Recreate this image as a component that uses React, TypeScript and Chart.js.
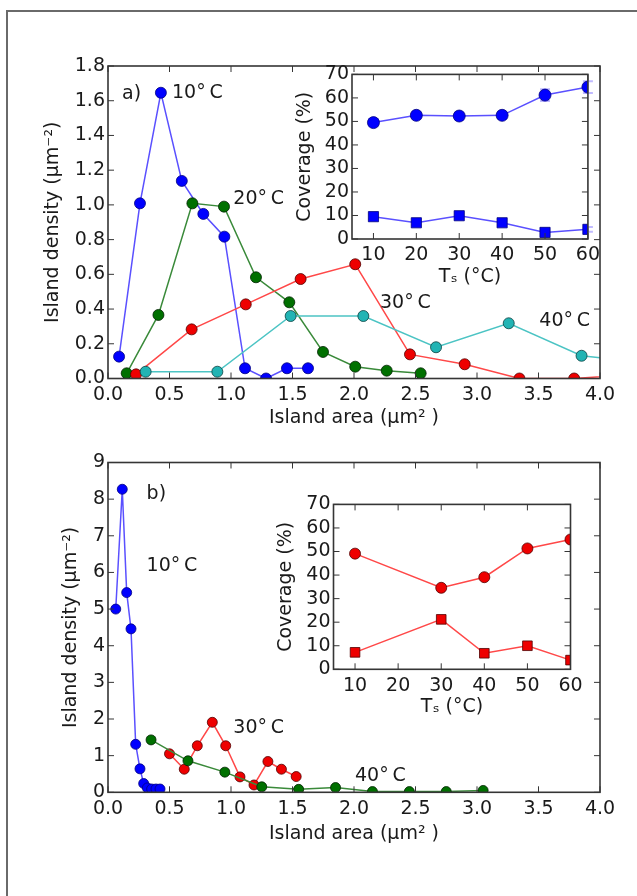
import React, { useEffect, useRef } from 'react';
import { Chart, registerables } from 'chart.js';
Chart.register(...registerables);

// ---------- data: panel a ----------
const areaTicks = [0, 0.5, 1, 1.5, 2, 2.5, 3, 3.5, 4];
const densityTicksA = [0, 0.2, 0.4, 0.6, 0.8, 1.0, 1.2, 1.4, 1.6, 1.8];
const a10X = [0.09, 0.26, 0.43, 0.6, 0.775, 0.946, 1.114, 1.285, 1.455, 1.626];
const a10Y = [0.126, 1.009, 1.646, 1.138, 0.948, 0.817, 0.059, 0.0, 0.059, 0.059];
const a20X = [0.152, 0.41, 0.686, 0.943, 1.203, 1.474, 1.748, 2.01, 2.266, 2.542];
const a20Y = [0.03, 0.366, 1.009, 0.99, 0.583, 0.439, 0.153, 0.068, 0.045, 0.03];
const a30X = [0.228, 0.68, 1.12, 1.566, 2.01, 2.455, 2.9, 3.345, 3.79, 4.235];
const a30Y = [0.024, 0.283, 0.427, 0.573, 0.658, 0.139, 0.082, 0.0, 0.0, 0.02];
const a40X = [0.306, 0.889, 1.485, 2.076, 2.667, 3.258, 3.85, 4.44];
const a40Y = [0.039, 0.039, 0.36, 0.36, 0.18, 0.318, 0.131, 0.086];

// ---------- data: panel b ----------
const densityTicksB = [0, 1, 2, 3, 4, 5, 6, 7, 8, 9];
const b10X = [0.063, 0.116, 0.152, 0.187, 0.225, 0.26, 0.29, 0.32, 0.355, 0.39, 0.423];
const b10Y = [5.0, 8.27, 5.45, 4.46, 1.31, 0.64, 0.24, 0.12, 0.09, 0.09, 0.09];
const b30X = [0.5, 0.62, 0.726, 0.848, 0.957, 1.073, 1.187, 1.3, 1.41, 1.53];
const b30Y = [1.05, 0.63, 1.27, 1.91, 1.27, 0.42, 0.2, 0.84, 0.63, 0.43];
const b40X = [0.35, 0.65, 0.95, 1.25, 1.55, 1.85, 2.15, 2.45, 2.75, 3.05];
const b40Y = [1.43, 0.86, 0.55, 0.15, 0.08, 0.13, 0.02, 0.02, 0.02, 0.05];

// ---------- data: insets ----------
const tempTicks = [10, 20, 30, 40, 50, 60];
const coverageTicks = [0, 10, 20, 30, 40, 50, 60, 70];
const insetATemps = [10, 20, 30, 40, 50, 60];
const insetACircle = [49.5, 52.6, 52.3, 52.6, 61.2, 64.6];
const insetACircleErr = [1.5, 1.5, 1.5, 1.5, 2.5, 2.5];
const insetASquare = [9.5, 6.9, 9.9, 6.9, 2.8, 4.1];
const insetASquareErr = [1, 1, 1, 1, 1, 1];
const insetBTemps = [10, 30, 40, 50, 60];
const insetBCircle = [49.1, 34.6, 39.1, 51.3, 55.1];
const insetBSquare = [7.2, 21.2, 6.8, 10.0, 3.9];

// ---------- styling ----------
const FONT = 'DejaVu Sans';
const FS = 19;
const LH = FS * 1.2;
const TEXT = '#1a1a1a';
const AXIS = '#353535';
const font = { family: FONT, size: FS };

const pts = (xs: number[], ys: number[]) => xs.map((x, i) => ({ x, y: ys[i] }));

function series(xs: number[], ys: number[], line: string, fill: string, edge: string, r: number, style = 'circle') {
  return {
    data: pts(xs, ys),
    borderColor: line,
    borderWidth: 1.5,
    backgroundColor: fill,
    pointBackgroundColor: fill,
    pointBorderColor: edge,
    pointBorderWidth: 0.8,
    pointRadius: r,
    pointStyle: style,
    tension: 0,
    fill: false,
    clip: 0,
  };
}

const framePlugin = {
  id: 'frame',
  beforeDraw(chart: any, _a: any, opts: any) {
    if (!opts || !opts.bg) return;
    const { ctx, chartArea: c } = chart;
    ctx.save();
    ctx.fillStyle = '#ffffff';
    ctx.fillRect(c.left, c.top, c.right - c.left, c.bottom - c.top);
    ctx.restore();
  },
  afterDraw(chart: any) {
    const { ctx, chartArea: c, scales } = chart;
    ctx.save();
    ctx.strokeStyle = AXIS;
    ctx.lineWidth = 1;
    const L = 6;
    const seg = (x1: number, y1: number, x2: number, y2: number) => {
      ctx.beginPath();
      ctx.moveTo(x1, y1);
      ctx.lineTo(x2, y2);
      ctx.stroke();
    };
    for (const t of scales.x.ticks) {
      const px = scales.x.getPixelForValue(t.value);
      seg(px, c.bottom, px, c.bottom - L);
      seg(px, c.top, px, c.top + L);
    }
    for (const t of scales.y.ticks) {
      const py = scales.y.getPixelForValue(t.value);
      seg(c.left, py, c.left + L, py);
      seg(c.right, py, c.right - L, py);
    }
    ctx.lineWidth = 1.6;
    ctx.strokeRect(c.left, c.top, c.right - c.left, c.bottom - c.top);
    ctx.restore();
  },
};

const notesPlugin = {
  id: 'notes',
  afterDatasetsDraw(chart: any, _a: any, opts: any) {
    const items = (opts && opts.items) || [];
    const { ctx, scales } = chart;
    ctx.save();
    ctx.font = `${FS}px "${FONT}"`;
    ctx.fillStyle = TEXT;
    ctx.textAlign = 'left';
    ctx.textBaseline = 'middle';
    for (const it of items) {
      ctx.fillText(it.text, scales.x.getPixelForValue(it.x), scales.y.getPixelForValue(it.y));
    }
    ctx.restore();
  },
};

const errPlugin = {
  id: 'errbars',
  beforeDatasetsDraw(chart: any, _a: any, opts: any) {
    const sets = (opts && opts.sets) || [];
    const { ctx, scales } = chart;
    ctx.save();
    ctx.strokeStyle = 'rgba(140,130,255,0.55)';
    ctx.lineWidth = 2;
    for (const s of sets) {
      s.xs.forEach((x: number, i: number) => {
        const px = scales.x.getPixelForValue(x);
        const y1 = scales.y.getPixelForValue(s.ys[i] - s.errs[i]);
        const y2 = scales.y.getPixelForValue(s.ys[i] + s.errs[i]);
        ctx.beginPath();
        ctx.moveTo(px, y1); ctx.lineTo(px, y2);
        ctx.moveTo(px - 5, y1); ctx.lineTo(px + 5, y1);
        ctx.moveTo(px - 5, y2); ctx.lineTo(px + 5, y2);
        ctx.stroke();
      });
    }
    ctx.restore();
  },
};

type Box = { left: number; top: number; width: number; height: number };
type Area = { left: number; top: number; right: number; bottom: number };

function makeConfig(p: {
  canvas: Box; area: Area; yTitleX: number; xTitleY: number;
  xMin: number; xMax: number; xTicks: number[]; xFmt: (v: number) => string; xTitle: string;
  yMin: number; yMax: number; yTicks: number[]; yFmt: (v: number) => string; yTitle: string;
  datasets: any[]; notes?: any[]; errs?: any[]; bg?: boolean;
}) {
  const padLeft = p.yTitleX - p.canvas.left - LH / 2;
  const yW = p.area.left - p.canvas.left - padLeft;
  const padTop = p.area.top - p.canvas.top;
  const padRight = p.canvas.left + p.canvas.width - p.area.right;
  const scaleBottom = p.xTitleY + LH / 2;
  const padBottom = p.canvas.top + p.canvas.height - scaleBottom;
  const xH = scaleBottom - p.area.bottom;
  return {
    type: 'line',
    data: { datasets: p.datasets },
    plugins: [framePlugin, notesPlugin, errPlugin],
    options: {
      animation: false,
      responsive: false,
      devicePixelRatio: 1,
      layout: { padding: { left: padLeft, top: padTop, right: padRight, bottom: padBottom } },
      plugins: {
        legend: { display: false },
        tooltip: { enabled: false },
        frame: { bg: !!p.bg },
        notes: { items: p.notes || [] },
        errbars: { sets: p.errs || [] },
      },
      scales: {
        x: {
          type: 'linear', position: 'bottom', min: p.xMin, max: p.xMax,
          grid: { display: false, drawTicks: false }, border: { display: false },
          ticks: { font, color: TEXT, padding: 5, autoSkip: false, maxRotation: 0, minRotation: 0, callback: (v: any) => p.xFmt(Number(v)) },
          afterBuildTicks: (s: any) => { s.ticks = p.xTicks.map((v) => ({ value: v })); },
          afterFit: (s: any) => { s.height = xH; },
          title: { display: true, text: p.xTitle, font, color: TEXT, padding: 0 },
        },
        y: {
          type: 'linear', position: 'left', min: p.yMin, max: p.yMax,
          grid: { display: false, drawTicks: false }, border: { display: false },
          ticks: { font, color: TEXT, padding: 3, autoSkip: false, callback: (v: any) => p.yFmt(Number(v)) },
          afterBuildTicks: (s: any) => { s.ticks = p.yTicks.map((v) => ({ value: v })); },
          afterFit: (s: any) => { s.width = yW; },
          title: { display: true, text: p.yTitle, font, color: TEXT, padding: 0 },
        },
      },
    },
  };
}

const BLUE_L = '#5a50ff', BLUE_F = '#0000ff', BLUE_E = '#000080';
const GREEN_L = '#3a8a3a', GREEN_F = '#007000', GREEN_E = '#002200';
const RED_L = '#ff4848', RED_F = '#ee0000', RED_E = '#500000';
const CYAN_L = '#4cc4c4', CYAN_F = '#22b4b4', CYAN_E = '#0d4040';

const f1 = (v: number) => v.toFixed(1);
const f0 = (v: number) => String(Math.round(v));
const deg = (t: string) => `${t}\u00B0\u2009C`;
const densityTitle = 'Island density (\u03BCm\u207B\u00B2)';
const areaTitle = 'Island area (\u03BCm\u00B2 )';
const tempTitle = 'T\u209B (\u00B0C)';

const boxMainA: Box = { left: 0, top: 0, width: 637, height: 448 };
const boxMainB: Box = { left: 0, top: 440, width: 637, height: 456 };
const boxInsetA: Box = { left: 260, top: 60, width: 345, height: 240 };
const boxInsetB: Box = { left: 240, top: 490, width: 350, height: 240 };

const cfgMainA = makeConfig({
  canvas: boxMainA, area: { left: 108, top: 66, right: 600, bottom: 378.5 }, yTitleX: 53, xTitleY: 418,
  xMin: 0, xMax: 4, xTicks: areaTicks, xFmt: f1, xTitle: areaTitle,
  yMin: 0, yMax: 1.8, yTicks: densityTicksA, yFmt: f1, yTitle: densityTitle,
  datasets: [
    series(a40X, a40Y, CYAN_L, CYAN_F, CYAN_E, 5.5),
    series(a30X, a30Y, RED_L, RED_F, RED_E, 5.5),
    series(a20X, a20Y, GREEN_L, GREEN_F, GREEN_E, 5.5),
    series(a10X, a10Y, BLUE_L, BLUE_F, BLUE_E, 5.5),
  ],
  notes: [
    { text: 'a)', x: 0.114, y: 1.64 },
    { text: deg('10'), x: 0.52, y: 1.645 },
    { text: deg('20'), x: 1.019, y: 1.034 },
    { text: deg('30'), x: 2.211, y: 0.435 },
    { text: deg('40'), x: 3.507, y: 0.331 },
  ],
});

const cfgMainB = makeConfig({
  canvas: boxMainB, area: { left: 108, top: 462.5, right: 600, bottom: 792.3 }, yTitleX: 71, xTitleY: 834,
  xMin: 0, xMax: 4, xTicks: areaTicks, xFmt: f1, xTitle: areaTitle,
  yMin: 0, yMax: 9, yTicks: densityTicksB, yFmt: f0, yTitle: densityTitle,
  datasets: [
    series(b40X, b40Y, GREEN_L, GREEN_F, GREEN_E, 5),
    series(b30X, b30Y, RED_L, RED_F, RED_E, 5),
    series(b10X, b10Y, BLUE_L, BLUE_F, BLUE_E, 5),
  ],
  notes: [
    { text: 'b)', x: 0.314, y: 8.14 },
    { text: deg('10'), x: 0.314, y: 6.18 },
    { text: deg('30'), x: 1.019, y: 1.75 },
    { text: deg('40'), x: 2.008, y: 0.45 },
  ],
});

const cfgInsetA = makeConfig({
  canvas: boxInsetA, area: { left: 352, top: 74, right: 588, bottom: 239 }, yTitleX: 305, xTitleY: 277,
  xMin: 5, xMax: 60, xTicks: tempTicks, xFmt: f0, xTitle: tempTitle,
  yMin: 0, yMax: 70, yTicks: coverageTicks, yFmt: f0, yTitle: 'Coverage (%)',
  datasets: [
    series(insetATemps, insetACircle, BLUE_L, BLUE_F, BLUE_E, 6),
    series(insetATemps, insetASquare, BLUE_L, BLUE_F, BLUE_E, 7.2, 'rect'),
  ],
  errs: [
    { xs: insetATemps, ys: insetACircle, errs: insetACircleErr },
    { xs: insetATemps, ys: insetASquare, errs: insetASquareErr },
  ],
  bg: true,
});

const cfgInsetB = makeConfig({
  canvas: boxInsetB, area: { left: 333.5, top: 504, right: 570.5, bottom: 669.3 }, yTitleX: 286, xTitleY: 707,
  xMin: 5, xMax: 60, xTicks: tempTicks, xFmt: f0, xTitle: tempTitle,
  yMin: 0, yMax: 70, yTicks: coverageTicks, yFmt: f0, yTitle: 'Coverage (%)',
  datasets: [
    series(insetBTemps, insetBCircle, RED_L, RED_F, RED_E, 5.5),
    series(insetBTemps, insetBSquare, RED_L, RED_F, RED_E, 6.8, 'rect'),
  ],
  bg: true,
});

function ChartCanvas({ cfg, box }: { cfg: any; box: Box }) {
  const ref = useRef<HTMLCanvasElement>(null);
  useEffect(() => {
    const chart = new Chart(ref.current as HTMLCanvasElement, cfg);
    return () => chart.destroy();
  }, [cfg]);
  return (
    <canvas
      ref={ref}
      width={box.width}
      height={box.height}
      style={{ position: 'absolute', left: box.left, top: box.top, width: box.width, height: box.height }}
    />
  );
}

export default function App() {
  return (
    <div style={{ position: 'absolute', left: 0, top: 0, width: 637, height: 896, overflow: 'hidden', background: '#fff' }}>
      <div style={{ position: 'absolute', left: 6, top: 10, width: 800, height: 1000, border: '2px solid #6a6a6a' }} />
      <ChartCanvas cfg={cfgMainA} box={boxMainA} />
      <ChartCanvas cfg={cfgMainB} box={boxMainB} />
      <ChartCanvas cfg={cfgInsetA} box={boxInsetA} />
      <ChartCanvas cfg={cfgInsetB} box={boxInsetB} />
    </div>
  );
}
